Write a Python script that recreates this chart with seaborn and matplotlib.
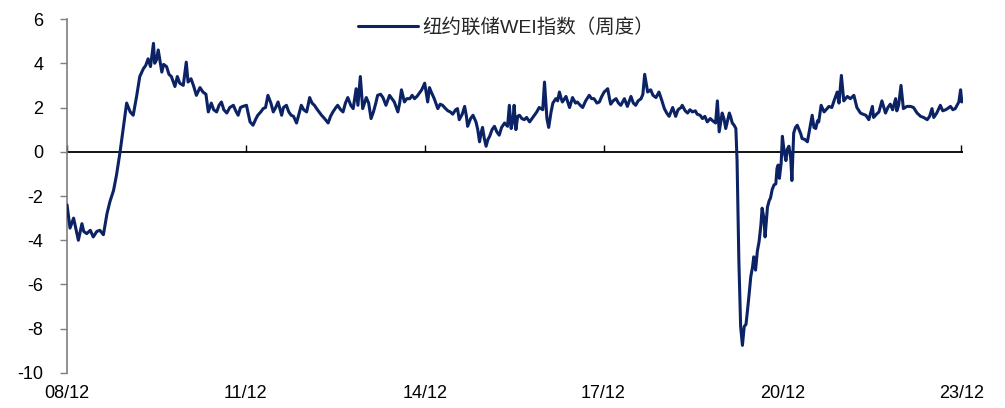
import matplotlib
matplotlib.use("Agg")
import matplotlib.pyplot as plt
import pandas as pd
import seaborn as sns

# time in decimal years
t = [2008.92, 2008.97, 2009.03, 2009.11, 2009.17, 2009.20, 2009.25, 2009.31, 2009.36, 2009.42,
     2009.47, 2009.53, 2009.59, 2009.64, 2009.70, 2009.75, 2009.81, 2009.86, 2009.92, 2009.98,
     2010.03, 2010.09, 2010.14, 2010.20, 2010.24, 2010.28, 2010.32, 2010.37, 2010.39, 2010.42,
     2010.45, 2010.51, 2010.54, 2010.59, 2010.63, 2010.67, 2010.73, 2010.77, 2010.81, 2010.87,
     2010.92, 2010.95, 2011.00, 2011.04, 2011.09, 2011.15, 2011.20, 2011.25, 2011.29, 2011.34,
     2011.38, 2011.43, 2011.47, 2011.51, 2011.55, 2011.60, 2011.65, 2011.71, 2011.75, 2011.79,
     2011.83, 2011.87, 2011.93, 2011.99, 2012.04, 2012.09, 2012.12, 2012.17, 2012.21, 2012.25,
     2012.29, 2012.34, 2012.38, 2012.42, 2012.46, 2012.52, 2012.55, 2012.60, 2012.64, 2012.68,
     2012.72, 2012.77, 2012.81, 2012.85, 2012.89, 2012.94, 2012.99, 2013.03, 2013.07, 2013.12,
     2013.19, 2013.24, 2013.30, 2013.34, 2013.38, 2013.43, 2013.46, 2013.51, 2013.55, 2013.59,
     2013.63, 2013.68, 2013.72, 2013.77, 2013.80, 2013.84, 2013.88, 2013.94, 2013.98, 2014.02,
     2014.06, 2014.10, 2014.13, 2014.18, 2014.22, 2014.27, 2014.33, 2014.37, 2014.41, 2014.47,
     2014.50, 2014.53, 2014.58, 2014.62, 2014.67, 2014.71, 2014.75, 2014.79, 2014.83, 2014.87,
     2014.92, 2014.95, 2014.97, 2015.00, 2015.03, 2015.08, 2015.14, 2015.18, 2015.22, 2015.27,
     2015.31, 2015.35, 2015.39, 2015.44, 2015.47, 2015.50, 2015.55, 2015.59, 2015.62, 2015.64,
     2015.69, 2015.73, 2015.78, 2015.81, 2015.84, 2015.87, 2015.89, 2015.92, 2015.95, 2015.98,
     2016.01, 2016.05, 2016.09, 2016.13, 2016.17, 2016.21, 2016.26, 2016.31, 2016.34, 2016.37,
     2016.40, 2016.42, 2016.45, 2016.48, 2016.51, 2016.55, 2016.59, 2016.63, 2016.68, 2016.72,
     2016.76, 2016.80, 2016.84, 2016.90, 2016.93, 2016.97, 2017.00, 2017.04, 2017.07, 2017.12,
     2017.15, 2017.18, 2017.21, 2017.23, 2017.29, 2017.35, 2017.40, 2017.45, 2017.48, 2017.53,
     2017.57, 2017.62, 2017.68, 2017.72, 2017.76, 2017.81, 2017.85, 2017.89, 2017.93, 2017.99,
     2018.02, 2018.04, 2018.08, 2018.13, 2018.17, 2018.21, 2018.27, 2018.32, 2018.38, 2018.42,
     2018.46, 2018.50, 2018.55, 2018.58, 2018.61, 2018.66, 2018.71, 2018.75, 2018.80, 2018.85,
     2018.90, 2018.94, 2018.98, 2019.02, 2019.08, 2019.13, 2019.17, 2019.22, 2019.24, 2019.29,
     2019.33, 2019.37, 2019.41, 2019.46, 2019.49, 2019.54, 2019.58, 2019.62, 2019.66, 2019.71,
     2019.75, 2019.80, 2019.83, 2019.86, 2019.89, 2019.91, 2019.94, 2019.97, 2020.00, 2020.03,
     2020.05, 2020.08, 2020.11, 2020.14, 2020.16, 2020.19, 2020.22, 2020.25, 2020.28, 2020.31,
     2020.33, 2020.36, 2020.39, 2020.42, 2020.44, 2020.47, 2020.50, 2020.53, 2020.56, 2020.58,
     2020.61, 2020.63, 2020.67, 2020.70, 2020.72, 2020.75, 2020.78, 2020.81, 2020.83, 2020.85,
     2020.87, 2020.90, 2020.92, 2020.95, 2020.98, 2021.00, 2021.03, 2021.06, 2021.08, 2021.10,
     2021.11, 2021.14, 2021.17, 2021.20, 2021.23, 2021.25, 2021.30, 2021.34, 2021.37, 2021.42,
     2021.45, 2021.48, 2021.51, 2021.53, 2021.57, 2021.62, 2021.67, 2021.70, 2021.75, 2021.78,
     2021.84, 2021.87, 2021.91, 2021.95, 2022.01, 2022.06, 2022.12, 2022.17, 2022.23, 2022.27,
     2022.32, 2022.37, 2022.43, 2022.45, 2022.50, 2022.54, 2022.59, 2022.65, 2022.69, 2022.73,
     2022.77, 2022.82, 2022.84, 2022.87, 2022.91, 2022.95, 2023.01, 2023.07, 2023.12, 2023.18,
     2023.24, 2023.29, 2023.35, 2023.39, 2023.43, 2023.46, 2023.51, 2023.57, 2023.61, 2023.66,
     2023.69, 2023.74, 2023.78, 2023.82, 2023.85, 2023.88, 2023.91, 2023.93]

wei = [-2.4, -3.45, -3.0, -4.0, -3.25, -3.6, -3.7, -3.55, -3.85, -3.6,
       -3.55, -3.75, -2.8, -2.25, -1.75, -1.05, 0.0, 1.0, 2.2, 1.8,
       1.65, 2.55, 3.4, 3.75, 3.9, 4.2, 3.85, 4.9, 4.0, 4.15,
       4.6, 3.6, 3.95, 3.85, 3.5, 3.4, 2.95, 3.4, 3.1, 3.0,
       4.05, 3.15, 3.3, 3.0, 2.55, 2.9, 2.7, 2.6, 1.8, 2.2,
       1.9, 1.8, 2.1, 2.25, 1.9, 1.75, 2.0, 2.1, 1.85, 1.65,
       2.0, 2.05, 2.1, 1.35, 1.2, 1.5, 1.65, 1.8, 1.95, 2.0,
       2.55, 2.2, 1.8, 2.0, 2.25, 1.65, 2.0, 2.1, 1.8, 1.65,
       1.6, 1.3, 1.7, 2.1, 1.9, 1.8, 2.45, 2.2, 2.1, 1.9,
       1.65, 1.5, 1.3, 1.6, 1.8, 2.0, 2.1, 1.9, 1.8, 2.2,
       2.45, 2.1, 1.95, 2.85, 2.1, 3.4, 1.95, 2.45, 2.2, 1.5,
       1.8, 2.2, 2.55, 2.6, 2.45, 2.1, 2.55, 2.4, 2.25, 1.8,
       2.2, 2.8, 2.25, 2.4, 2.4, 2.55, 2.4, 2.5, 2.65, 2.8,
       3.1, 2.6, 2.25, 2.9, 2.7, 2.4, 1.95, 2.15, 2.1, 1.95,
       1.85, 1.8, 1.7, 1.9, 1.95, 1.45, 1.7, 2.05, 1.6, 1.15,
       1.5, 1.65, 1.35, 1.0, 0.45, 0.9, 1.1, 0.6, 0.25, 0.55,
       0.7, 1.0, 1.15, 0.9, 0.75, 1.1, 1.3, 1.15, 2.1, 1.05,
       1.4, 2.1, 1.0, 1.6, 1.65, 1.5, 1.45, 1.55, 1.35, 1.5,
       1.65, 1.8, 2.0, 1.9, 3.15, 1.5, 1.1, 1.8, 2.2, 2.4,
       2.3, 2.7, 2.4, 2.25, 2.5, 2.0, 2.45, 2.2, 2.25, 2.1,
       2.0, 2.3, 2.55, 2.4, 2.4, 2.2, 2.25, 2.5, 2.7, 2.85,
       2.4, 2.15, 2.3, 2.4, 2.2, 2.1, 2.4, 2.05, 2.5, 2.2,
       2.1, 2.3, 2.4, 2.6, 3.5, 2.7, 2.8, 2.55, 2.45, 2.7,
       2.3, 1.95, 1.75, 1.6, 2.0, 1.6, 1.9, 2.0, 2.1, 1.85,
       1.75, 1.9, 1.8, 1.85, 1.7, 1.65, 1.5, 1.6, 1.35, 1.5,
       1.4, 1.3, 2.3, 0.9, 1.4, 1.75, 1.5, 1.05, 1.4, 1.75,
       1.6, 1.3, 1.2, 1.05, -0.4, -4.9, -7.9, -8.75, -7.9, -7.8,
       -7.3, -6.5, -5.65, -5.2, -4.75, -5.35, -4.5, -4.05, -3.3, -2.55,
       -3.0, -3.85, -2.5, -2.2, -2.1, -1.7, -1.5, -1.45, -0.75, -0.6,
       -1.2, -0.5, 0.7, 0.0, -0.4, 0.1, 0.25, -0.3, -1.3, 0.2,
       0.85, 1.1, 1.2, 1.0, 0.8, 0.6, 0.55, 0.45, 0.9, 1.65,
       1.1, 1.05, 1.4, 1.35, 2.1, 1.8, 1.95, 2.05, 2.0, 2.25,
       2.7, 2.2, 3.45, 2.3, 2.5, 2.4, 2.55, 2.0, 1.75, 1.7,
       1.65, 1.45, 2.05, 1.55, 1.7, 1.8, 2.3, 1.75, 2.0, 2.15,
       1.9, 2.4, 1.85, 2.1, 3.0, 1.95, 2.05, 2.05, 2.0, 1.75,
       1.6, 1.55, 1.45, 1.6, 1.95, 1.55, 1.75, 2.1, 1.85, 1.9,
       1.95, 2.05, 1.9, 1.95, 2.1, 2.25, 2.8, 2.25]

tick_pos = [2008.92, 2011.92, 2014.92, 2017.92, 2020.92, 2023.92]
tick_labels = ["08/12", "11/12", "14/12", "17/12", "20/12", "23/12"]
y_ticks = [-10, -8, -6, -4, -2, 0, 2, 4, 6]
series_name = "纽约联储WEI指数（周度）"

sns.set_style("white")
plt.rcParams["font.family"] = ["Liberation Sans", "Noto Sans CJK SC", "DejaVu Sans"]
plt.rcParams["axes.unicode_minus"] = False

fig = plt.figure(figsize=(10.05, 4.08), dpi=100)
ax = fig.add_axes([0.0667, 0.0858, 0.8915, 0.8676])

df = pd.DataFrame({"t": t, "wei": wei})
ax.axhline(0, color="black", lw=1.3, zorder=1)
sns.lineplot(data=df, x="t", y="wei", ax=ax, color="#0B2265", lw=2.2,
             label=series_name, zorder=3)

ax.set_xlim(2008.92, 2023.95)
ax.set_ylim(-10, 6)
ax.set_yticks(y_ticks)
ax.set_xticks(tick_pos, tick_labels)
ax.set_xlabel("")
ax.set_ylabel("")

ax.tick_params(axis="x", length=0, pad=9, labelsize=13, colors="black")
ax.tick_params(axis="y", length=5, width=1, direction="out", color="#7f7f7f",
               pad=12, labelsize=13, left=True, labelcolor="black")
for s in ["top", "right", "bottom"]:
    ax.spines[s].set_visible(False)
ax.spines["left"].set_color("#7f7f7f")
ax.spines["left"].set_linewidth(1.2)

sec = ax.secondary_xaxis(10 / 16)
sec.set_xticks(tick_pos, ["", "", "", "", "", ""])
sec.tick_params(axis="x", length=5, width=1, direction="out", color="black",
                labelbottom=False, labeltop=False)
for s in sec.spines.values():
    s.set_visible(False)

leg = ax.legend(loc="center", bbox_to_anchor=(0.49, 0.977), frameon=False,
                fontsize=14, handlelength=3.1, handletextpad=0.2)

fig.savefig("out.png", dpi=100)
